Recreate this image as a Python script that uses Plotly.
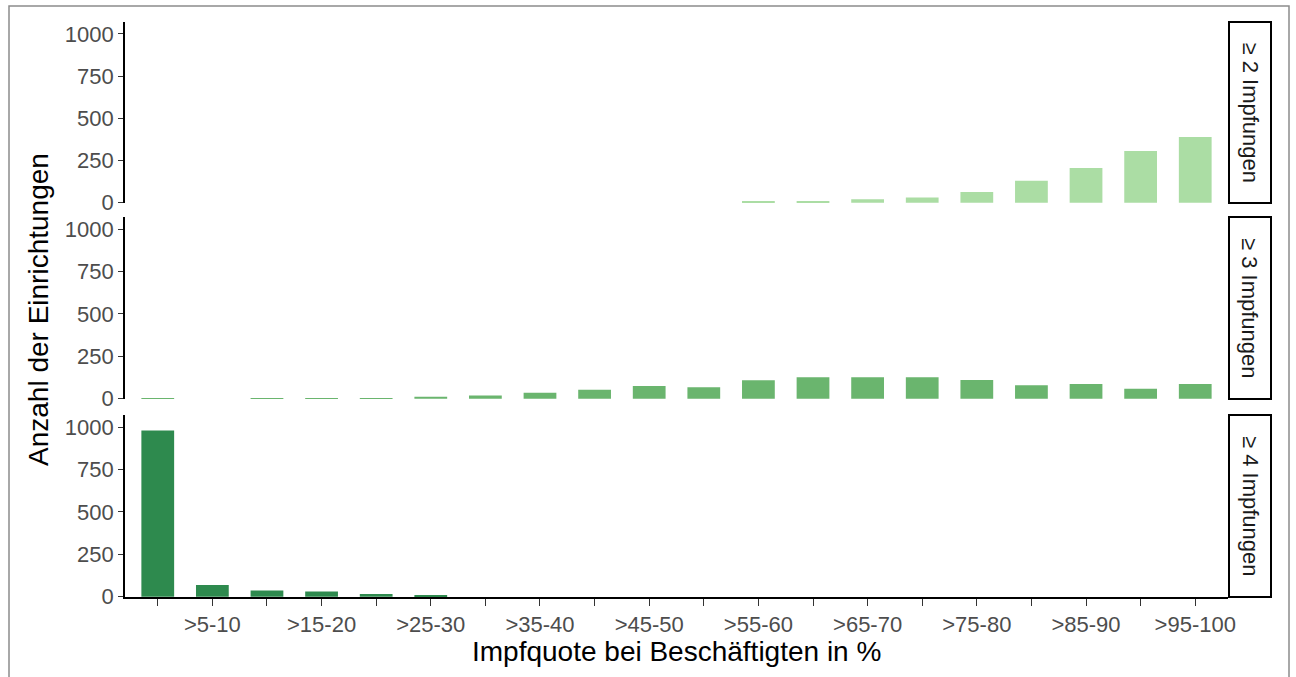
import plotly.graph_objects as go

categories = ["0-5", ">5-10", ">10-15", ">15-20", ">20-25", ">25-30", ">30-35", ">35-40",
              ">40-45", ">45-50", ">50-55", ">55-60", ">60-65", ">65-70", ">70-75",
              ">75-80", ">80-85", ">85-90", ">90-95", ">95-100"]
tick_labels = ["" if i % 2 == 0 else c for i, c in enumerate(categories)]

panels = ["≥ 2 Impfungen", "≥ 3 Impfungen", "≥ 4 Impfungen"]
values_2 = [0, 0, 0, 0, 0, 0, 0, 0, 0, 0, 0, 8, 5, 20, 30, 63, 130, 205, 306, 390]
values_3 = [2, 0, 2, 2, 2, 12, 18, 35, 53, 75, 67, 108, 126, 126, 126, 110, 79, 87, 59, 87]
values_4 = [979, 69, 36, 30, 16, 10, 0, 0, 0, 0, 0, 0, 0, 0, 0, 0, 0, 0, 0, 0]
colors = ["#abdda4", "#6ab56e", "#2e8a4e"]
y_ticks = [0, 250, 500, 750, 1000]

W, H = 1296, 677
L, R, T, B = 125, 1228, 22, 597
pw, ph = R - L, B - T

def px_x(x):
    return (x - L) / pw

def px_y(y):
    return (B - y) / ph

panel_px = [(22, 203), (217, 399), (415, 597)]

fig = go.Figure()
series = [values_2, values_3, values_4]
for i, vals in enumerate(series):
    fig.add_trace(go.Bar(
        x=categories, y=vals, marker=dict(color=colors[i], line=dict(width=0)),
        width=0.6, showlegend=False,
        xaxis="x" if i == 2 else f"x{i+2}",
        yaxis="y" if i == 2 else f"y{i+2}"))

axis_font = dict(family="Liberation Sans, Arial", size=22, color="#4d4d4d")
layout = dict(
    width=W, height=H, plot_bgcolor="white", paper_bgcolor="white",
    margin=dict(l=L, r=W - R, t=T, b=H - B), bargap=0.4,
    font=dict(family="Liberation Sans, Arial"),
)
for i, (top, bot) in enumerate(panel_px):
    yname = "yaxis" if i == 2 else f"yaxis{i+2}"
    xname = "xaxis" if i == 2 else f"xaxis{i+2}"
    xref = "x" if i == 2 else f"x{i+2}"
    layout[yname] = dict(
        domain=[px_y(bot), px_y(top)], range=[-2, 1071], tickvals=y_ticks,
        showgrid=False, zeroline=False, showline=True, linecolor="black", linewidth=1.6,
        ticks="outside", ticklen=5, tickcolor="#333333", tickwidth=1.2,
        tickfont=axis_font, anchor=xref)
    xa = dict(domain=[0, 1], range=[-0.6, 19.6], type="category",
              categoryorder="array", categoryarray=categories,
              showgrid=False, zeroline=False,
              anchor="y" if i == 2 else f"y{i+2}")
    if i == 2:
        xa.update(showline=True, linecolor="black", linewidth=1.6, ticks="outside",
                  ticklen=7, tickcolor="#333333", tickwidth=1.2,
                  tickvals=categories, ticktext=tick_labels, tickfont=axis_font,
                  tickangle=0)
    else:
        xa.update(showline=False, showticklabels=False, ticks="", matches="x")
    layout[xname] = xa

fig.update_layout(**layout)

shapes = []
annotations = []
for i, (top, bot) in enumerate(panel_px):
    shapes.append(dict(type="rect", xref="paper", yref="paper",
                       x0=px_x(1229), x1=px_x(1271), y0=px_y(bot), y1=px_y(top),
                       line=dict(color="black", width=2), fillcolor="white"))
    annotations.append(dict(text=panels[i], xref="paper", yref="paper",
                            x=px_x(1250), y=px_y((top + bot) / 2), showarrow=False,
                            textangle=90, font=dict(size=22, color="#1a1a1a"),
                            xanchor="center", yanchor="middle"))
shapes.append(dict(type="rect", xref="paper", yref="paper",
                   x0=px_x(9), x1=px_x(1289), y0=px_y(700), y1=px_y(6),
                   line=dict(color="#8c8c8c", width=1.5)))
annotations.append(dict(text="Anzahl der Einrichtungen", xref="paper", yref="paper",
                        x=px_x(38), y=px_y(310), showarrow=False, textangle=-90,
                        font=dict(size=28, color="black"), xanchor="center", yanchor="middle"))
annotations.append(dict(text="Impfquote bei Beschäftigten in %", xref="paper", yref="paper",
                        x=px_x(676), y=px_y(651), showarrow=False,
                        font=dict(size=28, color="black"), xanchor="center", yanchor="middle"))
fig.update_layout(shapes=shapes, annotations=annotations)

fig.write_html("out.html", config={"displayModeBar": False},
               post_script="document.body.style.margin='0';document.body.style.overflow='hidden';")
